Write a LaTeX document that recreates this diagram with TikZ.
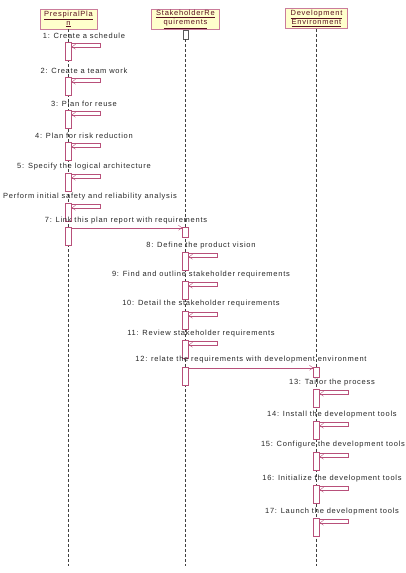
\documentclass[tikz,border=0pt]{standalone}
\usepackage{fontspec}
\newfontfamily\diagfont[LetterSpace=10]{Liberation Sans}
\usepackage{tikz}
\usetikzlibrary{arrows.meta, positioning}
\definecolor{umlred}{HTML}{B8507A}
\definecolor{umlfill}{HTML}{FFFFCC}
\definecolor{umltext}{HTML}{5A1020}
\begin{document}
\begin{tikzpicture}[x=1pt,y=-1pt,font=\diagfont\fontsize{7.5}{9}\selectfont,
  head/.style={draw=umlred!75,fill=umlfill,text=umltext,align=center,inner sep=1pt,minimum height=20pt},
  act/.style={draw=umlred,fill=white,minimum width=6pt,minimum height=18pt,inner sep=0pt},
  recv/.style={act,minimum height=10pt},
  msg/.style={umlred,-{Straight Barb[length=3.5pt,width=5pt]}},
  life/.style={dash pattern=on 3pt off 2pt,black!75},
  lbl/.style={text=black!85,inner sep=0pt}]
\useasboundingbox (0,0) rectangle (405,573);
\node[head,minimum width=57pt] (pp) at (68.5,19) {\underline{PrespiralPla}\\\underline{n}};
\node[head,minimum width=68pt] (sr) at (185.5,19.5) {\underline{StakeholderRe}\\\underline{quirements}};
\node[head,minimum width=62pt] (de) at (316.5,18.5) {\underline{Development}\\\underline{Environment}};
\node[draw=black!65,fill=white,minimum width=5pt,minimum height=9pt,inner sep=0pt,anchor=north] (sr0) at (sr.south) {};
\coordinate (ppend) at (68.5,566);
\coordinate (srend) at (185.5,566);
\coordinate (deend) at (316.5,566);
\draw[life] (pp.south) -- (ppend);
\draw[life] (sr0.south) -- (srend);
\draw[life] (de.south) -- (deend);

\node[act] (p1) at (68.5,51) {};
\draw[msg] ([yshift=-1pt]p1.north east) -- ++(28,0) -- ++(0,4) -- ([yshift=-5pt]p1.north east);
\node[lbl] (l1) at (84,36) {1: Create a schedule};
\node[act] (p2) at (68.5,86) {};
\draw[msg] ([yshift=-1pt]p2.north east) -- ++(28,0) -- ++(0,4) -- ([yshift=-5pt]p2.north east);
\node[lbl] (l2) at (84,71) {2: Create a team work};
\node[act] (p3) at (68.5,119) {};
\draw[msg] ([yshift=-1pt]p3.north east) -- ++(28,0) -- ++(0,4) -- ([yshift=-5pt]p3.north east);
\node[lbl] (l3) at (84,104) {3: Plan for reuse};
\node[act] (p4) at (68.5,151) {};
\draw[msg] ([yshift=-1pt]p4.north east) -- ++(28,0) -- ++(0,4) -- ([yshift=-5pt]p4.north east);
\node[lbl] (l4) at (84,136) {4: Plan for risk reduction};
\node[act] (p5) at (68.5,182) {};
\draw[msg] ([yshift=-1pt]p5.north east) -- ++(28,0) -- ++(0,4) -- ([yshift=-5pt]p5.north east);
\node[lbl] (l5) at (84,167) {5: Specify the logical architecture};
\node[act] (p6) at (68.5,212) {};
\draw[msg] ([yshift=-1pt]p6.north east) -- ++(28,0) -- ++(0,4) -- ([yshift=-5pt]p6.north east);
\node[lbl,anchor=west] (l6) at (3,197) {Perform initial safety and reliability analysis};
\node[act] (p7) at (68.5,236) {};
\node[recv] (s7) at (185.5,232) {};
\draw[msg] ([yshift=-1pt]p7.north east) -- ([yshift=-1pt]s7.north west);
\node[lbl] (l7) at (126,221) {7: Link this plan report with requirements};

\node[act] (s8) at (185.5,261) {};
\draw[msg] ([yshift=-1pt]s8.north east) -- ++(28,0) -- ++(0,4) -- ([yshift=-5pt]s8.north east);
\node[lbl] (l8) at (201,246) {8: Define the product vision};
\node[act] (s9) at (185.5,290) {};
\draw[msg] ([yshift=-1pt]s9.north east) -- ++(28,0) -- ++(0,4) -- ([yshift=-5pt]s9.north east);
\node[lbl] (l9) at (201,275) {9: Find and outline stakeholder requirements};
\node[act] (s10) at (185.5,320) {};
\draw[msg] ([yshift=-1pt]s10.north east) -- ++(28,0) -- ++(0,4) -- ([yshift=-5pt]s10.north east);
\node[lbl] (l10) at (201,304) {10: Detail the stakeholder requirements};
\node[act] (s11) at (185.5,349) {};
\draw[msg] ([yshift=-1pt]s11.north east) -- ++(28,0) -- ++(0,4) -- ([yshift=-5pt]s11.north east);
\node[lbl] (l11) at (201,334) {11: Review stakeholder requirements};
\node[act] (s12) at (185.5,376) {};
\node[recv] (d12) at (316.5,372) {};
\draw[msg] ([yshift=-1pt]s12.north east) -- ([yshift=-1pt]d12.north west);
\node[lbl] (l12) at (251,360) {12: relate the requirements with development environment};

\node[act] (d13) at (316.5,398) {};
\draw[msg] ([yshift=-1pt]d13.north east) -- ++(28,0) -- ++(0,4) -- ([yshift=-5pt]d13.north east);
\node[lbl] (l13) at (332,383) {13: Tailor the process};
\node[act] (d14) at (316.5,430) {};
\draw[msg] ([yshift=-1pt]d14.north east) -- ++(28,0) -- ++(0,4) -- ([yshift=-5pt]d14.north east);
\node[lbl] (l14) at (332,415) {14: Install the development tools};
\node[act] (d15) at (316.5,461) {};
\draw[msg] ([yshift=-1pt]d15.north east) -- ++(28,0) -- ++(0,4) -- ([yshift=-5pt]d15.north east);
\node[lbl] (l15) at (333,445) {15: Configure the development tools};
\node[act] (d16) at (316.5,494) {};
\draw[msg] ([yshift=-1pt]d16.north east) -- ++(28,0) -- ++(0,4) -- ([yshift=-5pt]d16.north east);
\node[lbl] (l16) at (332,479) {16: Initialize the development tools};
\node[act] (d17) at (316.5,527) {};
\draw[msg] ([yshift=-1pt]d17.north east) -- ++(28,0) -- ++(0,4) -- ([yshift=-5pt]d17.north east);
\node[lbl] (l17) at (332,512) {17: Launch the development tools};
\end{tikzpicture}
\end{document}
